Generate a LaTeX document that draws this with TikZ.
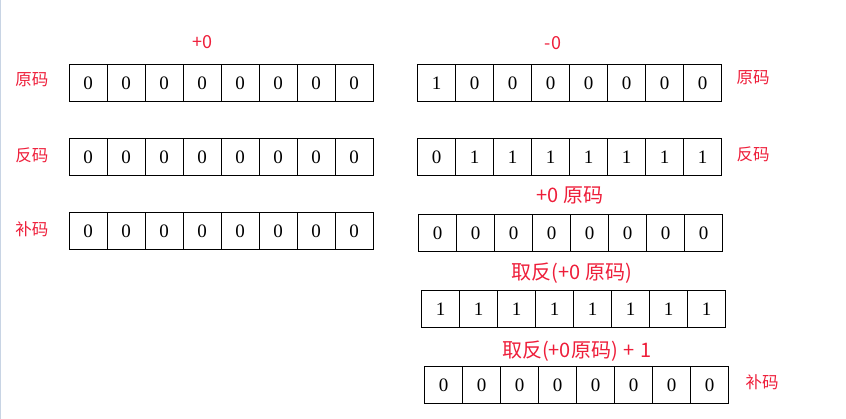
\documentclass[tikz,border=0pt]{standalone}
\usepackage{fontspec}
\setmainfont{Liberation Serif}
\newfontfamily\cjk{Noto Sans CJK SC}
\usetikzlibrary{positioning}
\definecolor{codered}{RGB}{238,30,58}
\definecolor{edgeblue}{RGB}{200,212,228}

\begin{document}
\begin{tikzpicture}[x=1pt,y=-1pt,
    bit/.style={draw, line width=1pt, minimum width=38pt, minimum height=37pt, inner sep=0pt, outer sep=0pt, font=\fontsize{19}{19}\selectfont},
    tag/.style={text=codered, inner sep=0pt, font=\cjk\fontsize{16.5}{17}\selectfont},
    sign/.style={text=codered, inner sep=0pt, font=\cjk\fontsize{18}{18}\selectfont},
    title/.style={text=codered, inner sep=0pt, font=\cjk\fontsize{20}{20}\selectfont}]
  \useasboundingbox (0,0) rectangle (846,419);
  \draw[edgeblue, line width=1.2pt] (0.6,0) -- (0.6,419);

  % +0 side
  \node[sign] (plus) at (202,42) {+0};
  \foreach \b [count=\i from 0] in {0,0,0,0,0,0,0,0}
    \node[bit] (pa\i) at (88+38*\i,83.5) {\b};
  \foreach \b [count=\i from 0] in {0,0,0,0,0,0,0,0}
    \node[bit] (pb\i) at (88+38*\i,157.5) {\b};
  \foreach \b [count=\i from 0] in {0,0,0,0,0,0,0,0}
    \node[bit] (pc\i) at (88+38*\i,231.5) {\b};
  \node[tag] (pyuan) at (32,80) {原码};
  \node[tag] (pfan) at (32,155) {反码};
  \node[tag] (pbu) at (32,229) {补码};

  % -0 side
  \node[sign] (minus) at (553,43) {-0};
  \foreach \b [count=\i from 0] in {1,0,0,0,0,0,0,0}
    \node[bit] (ma\i) at (436.5+38*\i,83.5) {\b};
  \foreach \b [count=\i from 0] in {0,1,1,1,1,1,1,1}
    \node[bit] (mb\i) at (436.5+38*\i,157.5) {\b};
  \node[tag] (myuan) at (753,78) {原码};
  \node[tag] (mfan) at (753,154) {反码};

  \node[title] (ta) at (570,195) {+0 原码};
  \foreach \b [count=\i from 0] in {0,0,0,0,0,0,0,0}
    \node[bit] (mc\i) at (437.5+38*\i,233.5) {\b};
  \node[title] (tb) at (572,273) {取反(+0 原码)};
  \foreach \b [count=\i from 0] in {1,1,1,1,1,1,1,1}
    \node[bit] (md\i) at (440.5+38*\i,309.5) {\b};
  \node[title] (tc) at (577,351) {取反(+0原码)\hspace{6pt}+\hspace{6pt}1};
  \foreach \b [count=\i from 0] in {0,0,0,0,0,0,0,0}
    \node[bit] (me\i) at (443.5+38*\i,385) {\b};
  \node[tag] (mbu) at (762,382) {补码};
\end{tikzpicture}
\end{document}
